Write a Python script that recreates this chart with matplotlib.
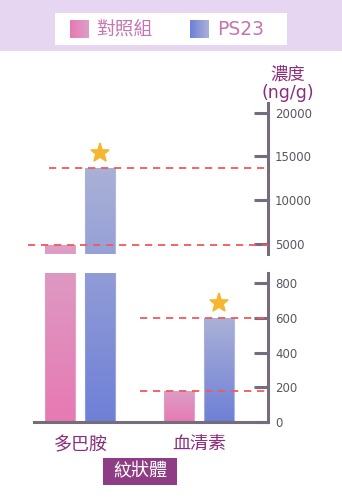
import numpy as np
import matplotlib
matplotlib.use("Agg")
import matplotlib.pyplot as plt
from matplotlib.colors import to_rgb, LinearSegmentedColormap
from matplotlib.patches import Rectangle
from matplotlib import transforms

# ---- data -------------------------------------------------------------
regions = ["多巴胺", "血清素"]
region_group = "紋狀體"
series = ["對照組", "PS23"]
control = [4900, 180]
ps23 = [13700, 600]
ps23_significant = [True, True]
upper_ticks = [5000, 10000, 15000, 20000]
lower_ticks = [0, 200, 400, 600, 800]
ylabel = "濃度\n(ng/g)"

# ---- styles -----------------------------------------------------------
FONT = ["DejaVu Sans", "Noto Sans CJK TC"]
plt.rcParams["font.family"] = FONT
AXIS_C = "#756d7c"
TICK_TXT = "#5b5561"
PURPLE = "#8b2d7d"
LEGEND_TXT = "#c575b2"
DASH_C = "#f0595e"
STAR_C = "#f6b632"
grad_colors = {"對照組": ("#dc9fc6", "#e779b2"),
               "PS23": ("#aab1d7", "#6e7fd6")}
upper_ylim = (3850, 21100)
lower_ylim = (0, 860)
xlim = (-0.39, 1.576)
offset, width = 0.168, 0.252
dash_start = [(-0.44, -0.264), (0.5, 0.5)]   # (control line, PS23 line) per region

fig = plt.figure(figsize=(3.42, 5.0), dpi=100)
W, H = 342, 500

def px_axes(l, t, r, b, **kw):
    return fig.add_axes([l / W, 1 - b / H, (r - l) / W, (b - t) / H], **kw)

ax_up = px_axes(34, 103, 268, 254)
ax_lo = px_axes(34, 273, 268, 422)

for ax, lim, ticks in ((ax_up, upper_ylim, upper_ticks), (ax_lo, lower_ylim, lower_ticks)):
    ax.set_xlim(*xlim)
    ax.set_ylim(*lim)
    ax.set_facecolor("none")
    for s in ("top", "left"):
        ax.spines[s].set_visible(False)
    ax.spines["right"].set_color(AXIS_C)
    ax.spines["right"].set_linewidth(2.2)
    ax.yaxis.tick_right()
    ax.set_yticks(ticks)
    ax.set_yticklabels([str(t) for t in ticks])
    ax.tick_params(axis="y", direction="in", length=10, width=2.2, color=AXIS_C,
                   labelsize=8.5, labelcolor=TICK_TXT, pad=5)

ax_up.spines["bottom"].set_visible(False)
ax_up.set_xticks([])
ax_lo.spines["bottom"].set_color(AXIS_C)
ax_lo.spines["bottom"].set_linewidth(2.2)
ax_lo.set_xticks(range(len(regions)))
ax_lo.set_xticklabels(regions)
ax_lo.tick_params(axis="x", length=0, pad=10, labelsize=13, labelcolor=PURPLE)

# ---- gradient bars ----------------------------------------------------
fig.canvas.draw()

def gradient_bar(x, value, name):
    c_top, c_bot = (np.array(to_rgb(c)) for c in grad_colors[name])
    pieces = []
    for ax in (ax_up, ax_lo):
        lo, hi = ax.get_ylim()
        if value <= lo:
            continue
        rect = ax.bar(x, value, width, color="none", edgecolor="none", zorder=2)[0]
        top = min(value, hi)
        pieces.append((ax, rect, top, lo))
    # vertical span on screen for the whole (possibly broken) bar
    y_top = pieces[0][0].transData.transform((0, pieces[0][2]))[1]
    y_bot = pieces[-1][0].transData.transform((0, pieces[-1][3]))[1]
    for ax, rect, top, lo in pieces:
        yt = ax.transData.transform((0, top))[1]
        yb = ax.transData.transform((0, lo))[1]
        t0 = (y_top - yt) / (y_top - y_bot)
        t1 = (y_top - yb) / (y_top - y_bot)
        ca = c_top + (c_bot - c_top) * t0
        cb = c_top + (c_bot - c_top) * t1
        cmap = LinearSegmentedColormap.from_list("g", [cb, ca])
        img = np.linspace(0, 1, 256).reshape(-1, 1)
        im = ax.imshow(img, extent=(x - width / 2, x + width / 2, lo, top), origin="lower",
                       cmap=cmap, aspect="auto", zorder=2, interpolation="bilinear")
        im.set_clip_path(rect)
        edge = Rectangle((x - width / 2, lo), width, top - lo, fill=False,
                         edgecolor=tuple(ca) + (0.9,), linewidth=0.8, zorder=2.5)
        ax.add_patch(edge)

for i in range(len(regions)):
    gradient_bar(i - offset, control[i], series[0])
    gradient_bar(i + offset, ps23[i], series[1])

for ax, lim in ((ax_up, upper_ylim), (ax_lo, lower_ylim)):
    ax.set_xlim(*xlim)
    ax.set_ylim(*lim)

# ---- dashed reference lines and stars ----------------------------------
for i in range(len(regions)):
    for val, xs in ((control[i], dash_start[i][0]), (ps23[i], dash_start[i][1])):
        for ax in (ax_up, ax_lo):
            lo, hi = ax.get_ylim()
            if lo < val < hi:
                ax.plot([xs, xlim[1]], [val, val], color=DASH_C, lw=1.3,
                        ls=(0, (4, 3.2)), zorder=3, clip_on=False)
    if ps23_significant[i]:
        for ax in (ax_up, ax_lo):
            lo, hi = ax.get_ylim()
            if lo < ps23[i] < hi:
                tr = transforms.offset_copy(ax.transData, fig=fig, y=15, units="dots")
                ax.plot(i + offset, ps23[i], marker="*", ms=14, color=STAR_C,
                        mec=STAR_C, mew=1.2, transform=tr, clip_on=False, zorder=4)

# region group label box, centred between the two regions
blend = transforms.blended_transform_factory(ax_lo.transData, ax_lo.transAxes)
box_y0, box_y1 = (422 - 485) / 149, (422 - 457.5) / 149
box_w = 0.615
ax_lo.add_patch(Rectangle((0.5 - box_w / 2, box_y0), box_w, box_y1 - box_y0,
                          transform=blend, fc="#8e3c84", ec="none", clip_on=False, zorder=3))
ax_lo.text(0.5, (box_y0 + box_y1) / 2, region_group, transform=blend,
           ha="center", va="center", fontsize=13, color="white", zorder=4)

# ---- header band with legend, and unit label ---------------------------
ov = fig.add_axes([0, 0, 1, 1], zorder=-1)
ov.set_xlim(0, W)
ov.set_ylim(H, 0)
ov.axis("off")
ov.add_patch(Rectangle((0, 0), W, 50.5, color="#e7d6f1", lw=0, zorder=1))
ov.add_patch(Rectangle((55, 12.7), 232, 32.3, color="white", lw=0, zorder=2))

legend_x = [(70, 96), (190, 217)]
for name, (sx, tx) in zip(series, legend_x):
    c_top, c_bot = grad_colors[name]
    cmap = LinearSegmentedColormap.from_list("l", [c_bot, c_top])
    ov.imshow(np.linspace(0, 1, 64).reshape(1, -1), extent=(sx, sx + 19, 38, 20),
              cmap=cmap, aspect="auto", interpolation="bilinear", zorder=3)
    ov.text(tx, 29.5, name, ha="left", va="center", fontsize=13.5, color=LEGEND_TXT,
            zorder=4)
ov.set_xlim(0, W)
ov.set_ylim(H, 0)

ov.text(288, 84, ylabel, ha="center", va="center", fontsize=12.5, color=PURPLE,
        linespacing=1.05, zorder=4)

fig.savefig("out.png", dpi=100)
